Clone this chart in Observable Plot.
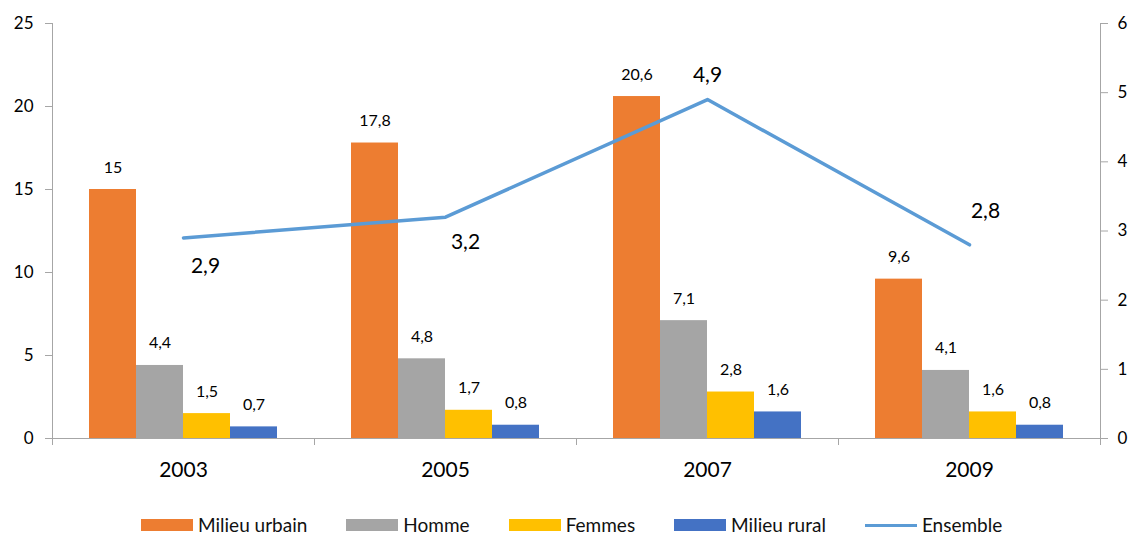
<!DOCTYPE html>
<html>
<head>
<meta charset="utf-8">
<script src="https://cdn.jsdelivr.net/npm/d3@7"></script>
<script src="https://cdn.jsdelivr.net/npm/@observablehq/plot@0.6"></script>
<style>
  html, body { margin: 0; padding: 0; background: #fff; }
  #wrap { position: relative; width: 1130px; height: 534px; font-family: Lato, "Open Sans", sans-serif; }
  #bars, #over { position: absolute; left: 0; top: 0; }
  #legend { position: absolute; left: 141px; top: 517px; height: 16px; line-height: 16px; display: flex; align-items: center; font-size: 19px; color: #111; white-space: nowrap; }
  .item { display: flex; align-items: center; margin-right: 39px; }
  .sw { width: 52px; height: 12px; margin-right: 5px; flex: none; }
  .ln { width: 52px; height: 3px; margin-right: 5px; flex: none; }
</style>
</head>
<body>
<div id="wrap">
  <div id="bars"></div>
  <div id="over"></div>
  <div id="legend"></div>
</div>
<script>
const years = ["2003", "2005", "2007", "2009"];
const series = ["Milieu urbain", "Homme", "Femmes", "Milieu rural"];
const milieuUrbain = [15, 17.8, 20.6, 9.6];
const homme = [4.4, 4.8, 7.1, 4.1];
const femmes = [1.5, 1.7, 2.8, 1.6];
const milieuRural = [0.7, 0.8, 1.6, 0.8];
const ensemble = [2.9, 3.2, 4.9, 2.8];
const leftTicks = [0, 5, 10, 15, 20, 25];
const rightTicks = [0, 1, 2, 3, 4, 5, 6];
const colors = ["#ED7D31", "#A5A5A5", "#FFC000", "#4472C4"];
const lineColor = "#5B9BD5";
const axisColor = "#A6A6A6";

const seriesValues = [milieuUrbain, homme, femmes, milieuRural];
const barData = [];
years.forEach((y, i) => series.forEach((s, k) => barData.push({year: y, series: s, value: seriesValues[k][i]})));
const lineData = years.map((y, i) => ({year: y, idx: i, value: ensemble[i]}));
const fmt = v => String(v).replace(".", ",");

const W = 1130, H = 500;
const common = {width: W, height: H, marginLeft: 52, marginRight: 30, marginTop: 23, marginBottom: 62};

const bars = Plot.plot({
  ...common,
  style: {fontFamily: "Lato, 'Open Sans', sans-serif", background: "transparent", color: "#000"},
  fx: {domain: years, padding: 0, axis: null},
  x: {domain: series, paddingInner: 0, paddingOuter: 0.75, axis: null},
  y: {domain: [0, 25]},
  color: {domain: series, range: colors},
  marks: [
    Plot.barY(barData, {fx: "year", x: "series", y: "value", fill: "series", inset: 0}),
    Plot.text(barData, {fx: "year", x: "series", y: "value", text: d => fmt(d.value), lineAnchor: "bottom", dy: -17, fontSize: 16, fill: "#000"}),
    Plot.axisY({ticks: leftTicks, tickFormat: d => String(d), tickSize: 7, tickPadding: 12, fontSize: 17, stroke: axisColor, label: null, facetAnchor: "left"})
  ]
});
document.getElementById("bars").appendChild(bars);

const offsets = [[22, 28], [20, 25], [0, -24], [16, -34]];
const over = Plot.plot({
  ...common,
  style: {fontFamily: "Lato, 'Open Sans', sans-serif", background: "transparent", color: "#000", overflow: "visible"},
  x: {domain: [0, years.length], axis: null},
  y: {domain: [0, 6], axis: null},
  marks: [
    Plot.ruleY([0], {stroke: axisColor}),
    Plot.ruleX([0, years.length], {stroke: axisColor}),
    Plot.axisX({ticks: d3.range(years.length + 1), tickFormat: () => "", tickSize: 7, stroke: axisColor, label: null}),
    Plot.axisX({ticks: years.map((y, i) => i + 0.5), tickFormat: v => years[Math.floor(v)], tickSize: 0, tickPadding: 24, fontSize: 21, label: null}),
    Plot.axisY({anchor: "right", ticks: rightTicks, tickFormat: d => String(d), tickSize: 7, tickPadding: 10, fontSize: 17, stroke: axisColor, label: null}),
    Plot.line(lineData, {x: d => d.idx + 0.5, y: "value", stroke: lineColor, strokeWidth: 3.5}),
    ...lineData.map((d, i) => Plot.text([d], {x: d => d.idx + 0.5, y: "value", text: d => fmt(d.value), dx: offsets[i][0], dy: offsets[i][1], fontSize: 21, fill: "#000"}))
  ]
});
document.getElementById("over").appendChild(over);

const legend = document.getElementById("legend");
function addItem(label, swClass, color) {
  const it = document.createElement("div"); it.className = "item";
  const sw = document.createElement("div"); sw.className = swClass; sw.style.background = color;
  const t = document.createElement("span"); t.textContent = label;
  it.append(sw, t); legend.appendChild(it);
}
series.forEach((s, k) => addItem(s, "sw", colors[k]));
addItem("Ensemble", "ln", lineColor);
</script>
</body>
</html>
